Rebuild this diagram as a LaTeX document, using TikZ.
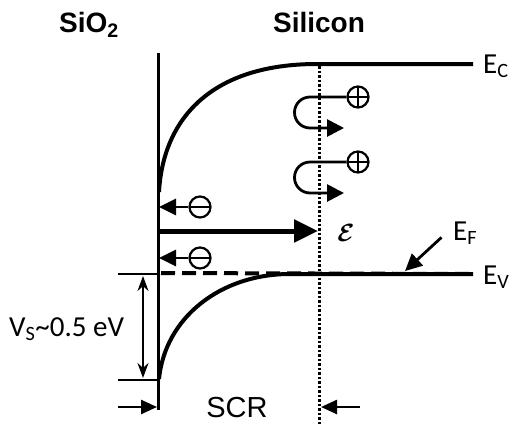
\documentclass[tikz,border=0pt]{standalone}
\usepackage{amsmath}
\usepackage{fontspec}
\setmainfont{Liberation Sans}
\newfontfamily\carlito{Carlito}
\usetikzlibrary{arrows.meta}
\begin{document}
\begin{tikzpicture}[x=1pt,y=-1pt,
  band/.style={line width=4pt},
  wall/.style={line width=3pt},
  tick/.style={line width=2.5pt},
  charge/.style={circle,draw,line width=2.2pt,minimum size=21pt,inner sep=0pt},
  minus/.style={charge,path picture={\draw[line width=2.2pt] (path picture bounding box.west) -- (path picture bounding box.east);}},
  plus/.style={charge,path picture={\draw[line width=2.2pt] (path picture bounding box.west) -- (path picture bounding box.east) (path picture bounding box.north) -- (path picture bounding box.south);}},
  earrow/.style={line width=2.8pt,-{Triangle[length=17pt,width=16pt]}},
  harrow/.style={line width=2.8pt,-{Triangle[length=17pt,width=17pt]}},
  farrow/.style={line width=5pt,-{Triangle[length=24pt,width=22pt]}},
  darrow/.style={line width=2pt,{Stealth[length=15pt,width=11pt]}-{Stealth[length=15pt,width=11pt]}},
  sarrow/.style={line width=2.5pt,-{Triangle[length=16pt,width=14pt]}},
  lbl/.style={inner sep=0pt,font=\carlito\fontsize{29}{32}\selectfont},
  ttl/.style={inner sep=0pt,font=\bfseries\fontsize{28}{32}\selectfont}
]
\useasboundingbox (0,0) rectangle (511,424);
% titles
\node[ttl,anchor=base] (sio2) at (89,32) {SiO\textsubscript{2}};
\node[ttl,anchor=base] (silicon) at (319,32) {Silicon};
% coordinates
\coordinate (wtop) at (158,53);
\coordinate (wbot) at (158,410);
\coordinate (ecstart) at (159,192);
\coordinate (ecflat) at (317,64);
\coordinate (ecend) at (473,64);
\coordinate (evstart) at (159,379);
\coordinate (evflat) at (290,274);
\coordinate (evend) at (473,274);
\coordinate (efstart) at (161,273);
\coordinate (dtop) at (319,66);
\coordinate (dbot) at (319,424);
% interface
\draw[wall] (wtop) -- (wbot);
% bands
\draw[band] (ecstart) .. controls (163,120) and (210,64) .. (ecflat) -- (ecend);
\draw[band] (evstart) .. controls (165,318) and (220,274) .. (evflat) -- (evend);
\draw[line width=4pt,dash pattern=on 14pt off 7pt] (efstart) -- (evend);
% SCR boundary
\draw[line width=3pt,dash pattern=on 2.5pt off 2pt] (dtop) -- (dbot);
% labels
\node[lbl,anchor=base west] (ec) at (483,73) {E\textsubscript{C}};
\node[lbl,anchor=base west] (ev) at (483,284) {E\textsubscript{V}};
\node[lbl,anchor=base west] (ef) at (453,240) {E\textsubscript{F}};
\coordinate (efend) at (405,271);
\draw[earrow,shorten <=2pt] (443,236) -- (efend);
% holes
\node[plus] (p1) at (358,97) {};
\node[plus] (p2) at (358,162) {};
\coordinate (h1) at (344,128);
\coordinate (h2) at (344,193);
\draw[harrow] (p1.west) -- (310,97) arc[start angle=270,end angle=90,radius=15.5] -- (h1);
\draw[harrow] (p2.west) -- (310,162) arc[start angle=270,end angle=90,radius=15.5] -- (h2);
% electrons
\node[minus] (m1) at (200,207) {};
\node[minus] (m2) at (200,258) {};
\coordinate (i1) at (159,207);
\coordinate (i2) at (159,258);
\draw[earrow] (m1.west) -- (i1);
\draw[earrow] (m2.west) -- (i2);
% field
\coordinate (fs) at (159,231);
\coordinate (fe) at (318,231);
\draw[farrow] (fs) -- (fe);
\node[inner sep=0pt] (field) at (346,233) {\fontsize{32}{32}\selectfont$\boldsymbol{\mathcal{E}}$};
% Vs
\coordinate (t1a) at (118,274);
\coordinate (t1b) at (158,274);
\coordinate (t2a) at (118,380);
\coordinate (t2b) at (158,380);
\draw[tick] (t1a) -- (t1b);
\draw[tick] (t2a) -- (t2b);
\coordinate (va) at (143,276);
\coordinate (vb) at (143,378);
\draw[darrow] (va) -- (vb);
\node[lbl,anchor=base west] (vs) at (9,336) {V\textsubscript{S}\char"7E 0.5 eV};
% SCR
\node[inner sep=0pt,anchor=base,font=\fontsize{29}{32}\selectfont] (scr) at (237,417) {SCR};
\coordinate (sl) at (118,407);
\coordinate (sle) at (157,407);
\coordinate (sr) at (360,407);
\coordinate (sre) at (321,407);
\draw[sarrow] (sl) -- (sle);
\draw[sarrow] (sr) -- (sre);
\end{tikzpicture}
\end{document}
